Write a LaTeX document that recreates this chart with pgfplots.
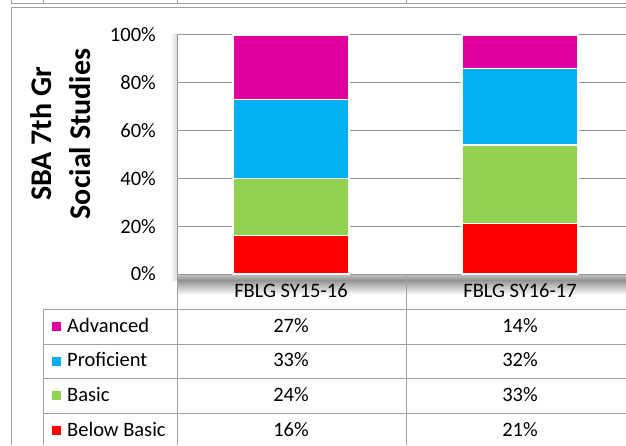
\documentclass[border=0pt]{standalone}
\usepackage{fontspec}
\setmainfont{Carlito}
\usepackage{pgfplots}
\pgfplotsset{compat=1.18}

\definecolor{advc}{RGB}{224,0,160}
\definecolor{proc}{RGB}{0,176,240}
\definecolor{basc}{RGB}{146,208,80}
\definecolor{belc}{RGB}{255,0,0}
\definecolor{gridgray}{RGB}{150,150,150}
\definecolor{tblgray}{RGB}{160,160,160}

\begin{document}
\begin{tikzpicture}[x=1pt,y=1pt,font=\fontsize{20.5}{24}\selectfont]
\useasboundingbox (0,0) rectangle (626,445);

% outer sheet lines
\draw[tblgray, line width=1pt] (11,441) -- (626,441);
\foreach \xx in {11,43,177,406} \draw[tblgray, line width=1pt] (\xx,445) -- (\xx,441);
\draw[tblgray, line width=1pt] (11,0) -- (11,437) -- (626,437);

% floor and side shadow of the plot area
\shade[top color=gray!45, bottom color=gray!85] (177,165) rectangle (626,171);
\shade[top color=gray!85, bottom color=white] (177,150) rectangle (626,165);
\shade[left color=white, right color=gray!30] (170,165) rectangle (177,410);

\begin{axis}[
    at={(177pt,171pt)}, anchor=south west,
    scale only axis, width=449pt, height=239pt,
    xmin=-0.498, xmax=1.463, ymin=0, ymax=100,
    ybar stacked, bar width=116pt,
    axis x line=none, axis y line*=left,
    y axis line style={draw=gridgray, line width=1pt, -},
    xtick=\empty,
    ytick={0,20,40,60,80,100},
    yticklabels={0\%,20\%,40\%,60\%,80\%,100\%},
    major tick length=0pt,
    yticklabel style={anchor=east, inner sep=0pt, xshift=-21pt,
        font=\fontsize{20.5}{24}\selectfont},
    ymajorgrids, grid style={gridgray, line width=1pt},
    clip=false
]
% Below Basic, Basic, Proficient, Advanced
\addplot[fill=belc, draw=white, line width=1.2pt] coordinates {(0,16) (1,21)};
\addplot[fill=basc, draw=white, line width=1.2pt] coordinates {(0,24) (1,33)};
\addplot[fill=proc, draw=white, line width=1.2pt] coordinates {(0,33) (1,32)};
\addplot[fill=advc, draw=white, line width=1.2pt] coordinates {(0,27) (1,14)};
\end{axis}

% y label
\node[rotate=90, align=center, font=\fontsize{30}{39}\selectfont\bfseries]
    at (61,311) {SBA 7th Gr\\Social Studies};

% data table
\foreach \yy in {136,101,67,32} \draw[tblgray, line width=1pt] (43,\yy) -- (626,\yy);
\draw[tblgray, line width=1pt] (43,136) -- (43,0);
\draw[tblgray, line width=1pt] (177,171) -- (177,0);
\draw[tblgray, line width=1pt] (406,171) -- (406,0);

\node[anchor=base] at (291,148) {FBLG SY15-16};
\node[anchor=base] at (520,148) {FBLG SY16-17};

\fill[advc] (52,114) rectangle (61,123);
\node[anchor=base west, inner sep=0pt] at (67,113) {Advanced};
\node[anchor=base] at (291,113) {27\%};
\node[anchor=base] at (520,113) {14\%};

\fill[proc] (52,79.3) rectangle (61,88.3);
\node[anchor=base west, inner sep=0pt] at (67,78.3) {Proficient};
\node[anchor=base] at (291,78.3) {33\%};
\node[anchor=base] at (520,78.3) {32\%};

\fill[basc] (52,44.7) rectangle (61,53.7);
\node[anchor=base west, inner sep=0pt] at (67,43.7) {Basic};
\node[anchor=base] at (291,43.7) {24\%};
\node[anchor=base] at (520,43.7) {33\%};

\fill[belc] (52,10) rectangle (61,19);
\node[anchor=base west, inner sep=0pt] at (67,9) {Below Basic};
\node[anchor=base] at (291,9) {16\%};
\node[anchor=base] at (520,9) {21\%};
\end{tikzpicture}
\end{document}
